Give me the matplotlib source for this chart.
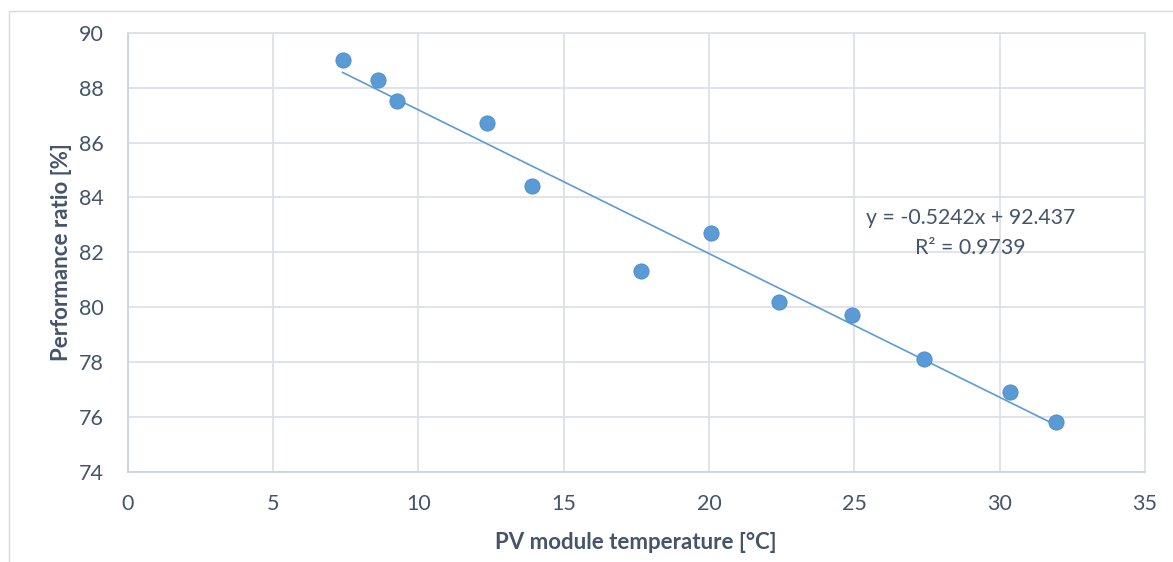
import matplotlib
matplotlib.use("Agg")
import matplotlib.pyplot as plt
from matplotlib.patches import Rectangle
import numpy as np

# Module temperature [°C] and measured performance ratio [%]
temperature = [7.40, 8.60, 9.27, 12.35, 13.92, 17.66, 20.07, 22.41, 24.92, 27.40, 30.35, 31.93]
performance_ratio = [89.0, 88.3, 87.5, 86.7, 84.4, 81.3, 82.7, 80.2, 79.7, 78.1, 76.9, 75.8]

# Linear trend line coefficients
slope = -0.5242
intercept = 92.437
r_squared = 0.9739

x_ticks = [0, 5, 10, 15, 20, 25, 30, 35]
y_ticks = [74, 76, 78, 80, 82, 84, 86, 88, 90]

text_color = "#44546A"
grid_color = "#DDE1E7"
point_color = "#5B9BD5"

plt.rcParams["font.family"] = ["Lato", "DejaVu Sans"]

fig = plt.figure(figsize=(11.73, 5.62), dpi=100)
ax = fig.add_axes([127.5 / 1173, 1 - 471.6 / 562, (1145 - 127.5) / 1173, (471.6 - 32.9) / 562])

# Outer chart frame
fig.patches.append(Rectangle((9 / 1173, -0.1), 1.2, 1 - 11 / 562 + 0.1,
                             transform=fig.transFigure, fill=False,
                             edgecolor="#D9D9D9", linewidth=1.0))

ax.set_xlim(0, 35)
ax.set_ylim(74, 90)
ax.set_xticks(x_ticks)
ax.set_yticks(y_ticks)
ax.grid(True, color=grid_color, linewidth=1.3)
ax.set_axisbelow(True)

for side in ["top", "right"]:
    ax.spines[side].set_color(grid_color)
    ax.spines[side].set_linewidth(1.3)
for side in ["left", "bottom"]:
    ax.spines[side].set_color("#CDD3DC")
    ax.spines[side].set_linewidth(1.3)

ax.tick_params(axis="both", length=0, labelsize=15.5, labelcolor=text_color)
ax.tick_params(axis="y", pad=17)
ax.tick_params(axis="x", pad=16)

# Trend line over the measured range
x_fit = np.array([min(temperature), max(temperature)])
ax.plot(x_fit, slope * x_fit + intercept, color=point_color, linewidth=1.2, zorder=2)

ax.scatter(temperature, performance_ratio, s=120, color=point_color,
           edgecolors="#4A8BC9", linewidths=0.6, zorder=3)

ax.text(29.0, 83.26, f"y = {slope}x + {intercept}", ha="center", va="center",
        fontsize=15.3, color=text_color)
ax.text(29.0, 82.17, f"R² = {r_squared}", ha="center", va="center",
        fontsize=15.3, color=text_color)

ax.set_xlabel("PV module temperature [°C]", fontsize=16, fontweight="bold",
              color=text_color, labelpad=13)
ax.set_ylabel("Performance ratio [%]", fontsize=16, fontweight="bold",
              color=text_color, labelpad=5)

fig.savefig("out.png", dpi=100)
